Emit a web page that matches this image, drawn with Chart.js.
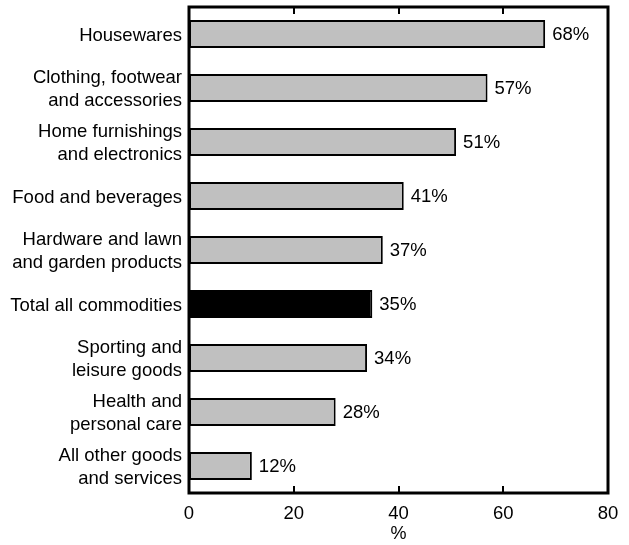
<!DOCTYPE html>
<html>
<head>
<meta charset="utf-8">
<script src="https://cdn.jsdelivr.net/npm/chart.js@4/dist/chart.umd.min.js"></script>
<style>
  html, body { margin: 0; padding: 0; background: #fff; }
  #wrap { width: 629px; height: 545px; }
</style>
</head>
<body>
<div id="wrap"><canvas id="chart"></canvas></div>
<script>
const categories = [
    ['Housewares'],
    ['Clothing, footwear', 'and accessories'],
    ['Home furnishings', 'and electronics'],
    ['Food and beverages'],
    ['Hardware and lawn', 'and garden products'],
    ['Total all commodities'],
    ['Sporting and', 'leisure goods'],
    ['Health and', 'personal care'],
    ['All other goods', 'and services']
]
const shares = [68, 57, 51, 41, 37, 35, 34, 28, 12]
const highlight = 'Total all commodities'
const xTicks = [0, 20, 40, 60, 80]

const fontFamily = '"Liberation Sans", Arial, sans-serif'
const fillColors = categories.map(c => c[0] === highlight ? '#000000' : '#c0c0c0')

// Frame around the plot area with short inward ticks
const framePlugin = {
    id: 'frame',
    afterDraw(chart) {
        const { ctx, chartArea: a } = chart
        const x = chart.scales.x
        ctx.save()
        ctx.strokeStyle = '#000'
        ctx.lineWidth = 3
        ctx.strokeRect(a.left, a.top, a.right - a.left, a.bottom - a.top)
        ctx.lineWidth = 2
        xTicks.slice(1, -1).forEach(v => {
            const px = Math.round(x.getPixelForValue(v))
            ctx.beginPath()
            ctx.moveTo(px, a.top)
            ctx.lineTo(px, a.top + 7)
            ctx.moveTo(px, a.bottom)
            ctx.lineTo(px, a.bottom - 7)
            ctx.stroke()
        })
        ctx.restore()
    }
}

// Value labels at the end of each bar
const valueLabels = {
    id: 'valueLabels',
    afterDatasetsDraw(chart) {
        const { ctx } = chart
        const meta = chart.getDatasetMeta(0)
        ctx.save()
        ctx.font = '18.5px ' + fontFamily
        ctx.fillStyle = '#000'
        ctx.textAlign = 'left'
        ctx.textBaseline = 'middle'
        meta.data.forEach((bar, i) => {
            ctx.fillText(shares[i] + '%', bar.x + 7, bar.y + 1)
        })
        ctx.restore()
    }
}

new Chart(document.getElementById('chart'), {
    type: 'bar',
    data: {
        labels: categories,
        datasets: [{
            data: shares,
            backgroundColor: fillColors,
            borderColor: '#000',
            borderWidth: 2,
            borderSkipped: false,
            categoryPercentage: 1,
            barPercentage: 0.52
        }]
    },
    options: {
        indexAxis: 'y',
        responsive: true,
        maintainAspectRatio: false,
        animation: false,
        layout: { padding: { top: 7, right: 21, left: 0, bottom: 0 } },
        plugins: {
            legend: { display: false },
            tooltip: { enabled: false }
        },
        scales: {
            x: {
                min: 0,
                max: 80,
                afterBuildTicks: scale => { scale.ticks = xTicks.map(v => ({ value: v })) },
                afterFit: scale => {
                    scale.height = 52
                    scale.paddingLeft = 0
                    scale.paddingRight = 0
                },
                grid: { display: false, drawTicks: false },
                border: { display: false },
                ticks: {
                    color: '#000',
                    padding: 10,
                    maxRotation: 0,
                    font: { family: fontFamily, size: 18.5 }
                },
                title: {
                    display: true,
                    text: '%',
                    color: '#000',
                    padding: { top: 3, bottom: 0 },
                    font: { family: fontFamily, size: 18 }
                }
            },
            y: {
                afterFit: scale => {
                    scale.width = 189
                    scale.paddingTop = 0
                    scale.paddingBottom = 0
                },
                grid: { display: false, drawTicks: false },
                border: { display: false },
                ticks: {
                    color: '#000',
                    padding: 7,
                    labelOffset: 1.5,
                    font: { family: fontFamily, size: 18.5, lineHeight: 1.28 }
                }
            }
        }
    },
    plugins: [framePlugin, valueLabels]
})
</script>
</body>
</html>
